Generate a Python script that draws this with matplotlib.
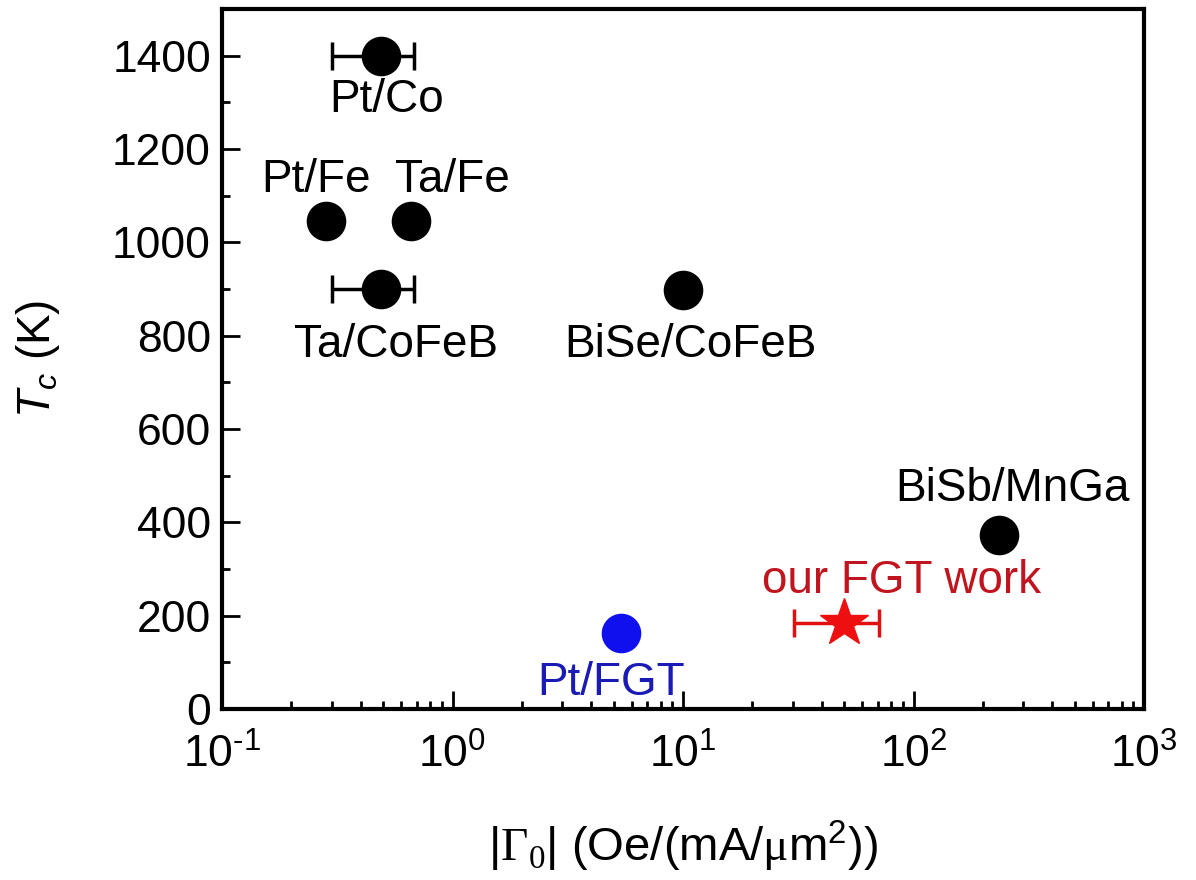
import matplotlib
matplotlib.use("Agg")
import matplotlib.pyplot as plt
from matplotlib.ticker import LogLocator, MultipleLocator, NullFormatter, FuncFormatter
import math

plt.rcParams['font.family'] = ['Liberation Sans', 'DejaVu Sans']
plt.rcParams['mathtext.fontset'] = 'custom'
plt.rcParams['mathtext.rm'] = 'Liberation Serif'
plt.rcParams['mathtext.it'] = 'Liberation Sans:italic'
plt.rcParams['mathtext.sf'] = 'Liberation Sans'

# black reference points
names = ["Pt/Co", "Pt/Fe", "Ta/Fe", "Ta/CoFeB", "BiSe/CoFeB", "BiSb/MnGa"]
gamma = [0.49, 0.283, 0.66, 0.49, 10.0, 234.0]
tc = [1400, 1045, 1045, 900, 897, 372]
xerr_lo = [0.19, 0, 0, 0.19, 0, 0]
xerr_hi = [0.19, 0, 0, 0.19, 0, 0]
# label anchor positions (data coords)
label_x = [0.52, 0.256, 1.0, 0.571, 10.8, 270.0]
label_y = [1305, 1134, 1134, 779, 779, 472]

# Pt/FGT
ptfgt_gamma = 5.37
ptfgt_tc = 163
ptfgt_label = (4.86, 56)

# our work
our_gamma = 50.0
our_tc = 185
our_err_lo = 19.6
our_err_hi = 21.0
our_label = (88.7, 275)

fig = plt.figure(figsize=(11.96, 8.8), dpi=100)
ax = fig.add_axes([222/1196, 1-709/880, (1144-222)/1196, (709-9)/880])

for g, t, lo, hi in zip(gamma, tc, xerr_lo, xerr_hi):
    if lo or hi:
        ax.errorbar([g], [t], xerr=[[lo], [hi]], fmt='none', ecolor='black',
                    elinewidth=2.5, capsize=10, capthick=2.5, zorder=2)
ax.plot(gamma, tc, 'o', color='black', markersize=27.5, zorder=3)

ax.plot([ptfgt_gamma], [ptfgt_tc], 'o', color='#1010ee', markersize=27.5, zorder=3)

ax.errorbar([our_gamma], [our_tc], xerr=[[our_err_lo], [our_err_hi]], fmt='none',
            ecolor='#e01010', elinewidth=2.5, capsize=10, capthick=2.5, zorder=2)
ax.plot([our_gamma], [our_tc], '*', color='#ee1010', markersize=36, zorder=3)

fs_lab = 33
for n, lx, ly in zip(names, label_x, label_y):
    ax.text(lx, ly, n, ha='center', va='center', fontsize=fs_lab)
ax.text(ptfgt_label[0], ptfgt_label[1], "Pt/FGT", ha='center', va='center',
        fontsize=fs_lab, color='#1a1ab4')
ax.text(our_label[0], our_label[1], "our FGT work", ha='center', va='center',
        fontsize=fs_lab, color='#c0141e')

ax.set_xscale('log')
ax.set_xlim(0.1, 1000)
ax.set_ylim(0, 1500)
ax.xaxis.set_major_locator(LogLocator(base=10, numticks=10))
ax.xaxis.set_major_formatter(FuncFormatter(
    lambda v, p: r"$\mathsf{10^{%s}}$" % ("\u2010" + str(-int(round(math.log10(v)))) if v < 1 else str(int(round(math.log10(v)))))))
ax.xaxis.set_minor_locator(LogLocator(base=10, subs=range(2, 10), numticks=20))
ax.xaxis.set_minor_formatter(NullFormatter())
ax.yaxis.set_major_locator(MultipleLocator(200))
ax.yaxis.set_minor_locator(MultipleLocator(100))

ax.tick_params(which='both', direction='in', top=False, right=False, width=2, labelsize=32)
ax.tick_params(which='major', length=13)
ax.tick_params(axis='y', which='major', pad=8)
ax.tick_params(axis='x', which='major', pad=18)
ax.tick_params(which='minor', length=6)
for s in ax.spines.values():
    s.set_linewidth(3)

ax.set_ylabel(r"$T_c$ (K)", fontsize=33, labelpad=36)
ax.set_xlabel(r"|$\Gamma_0$| (Oe/(mA/$\mathrm{\mu}$m$^\mathsf{2}$))", fontsize=34, labelpad=30)

fig.savefig("out.png", dpi=100)
